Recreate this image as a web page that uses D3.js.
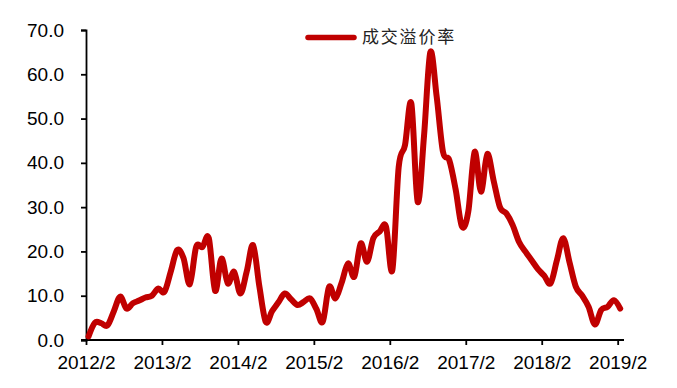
<!DOCTYPE html>
<html>
<head>
<meta charset="utf-8">
<script src="https://cdn.jsdelivr.net/npm/d3@7/dist/d3.min.js"></script>
<style>
  html, body { margin: 0; padding: 0; background: #fff; }
  svg { display: block; }
</style>
</head>
<body>
<svg id="chart" width="677" height="388"></svg>
<script>
// ---- data ----
// monthly values, 2012/2 .. 2019/2
const premium = [
  0.8, 3.9, 3.8, 3.3, 6.5, 9.8, 7.1, 8.3, 8.9, 9.6, 10.0, 11.6,
  10.9, 15.5, 20.3, 18.5, 12.6, 21.0, 21.0, 23.0, 11.1, 18.4, 12.8, 15.4,
  10.5, 15.5, 21.4, 12.0, 4.1, 6.5, 8.5, 10.5, 9.2, 7.9, 8.6, 9.4,
  7.0, 4.1, 12.0, 9.4, 13.0, 17.3, 14.3, 21.8, 17.7, 23.0, 24.5, 25.6,
  15.8, 39.0, 44.0, 53.4, 31.2, 46.0, 65.0, 55.0, 42.5, 40.6, 34.0, 25.6,
  29.0, 42.5, 33.5, 42.0, 36.0, 30.0, 28.6, 26.0, 22.2, 20.0, 18.0, 16.0,
  14.5, 12.8, 18.0, 23.0, 17.5, 12.0, 10.0, 7.5, 3.5, 6.8, 7.5, 9.0,
  7.1
];
const xTickLabels = ["2012/2","2013/2","2014/2","2015/2","2016/2","2017/2","2018/2","2019/2"];
const yTicks = [0, 10, 20, 30, 40, 50, 60, 70];
const seriesName = "成交溢价率";

(function () {
  const svg = d3.select("#chart");
  const mLeft = 86, mRight = 624, mTop = 30, mBottom = 340;
  const red = "#C00000";
  const font = "'Liberation Sans', Arial, sans-serif";

  const x = d3.scaleLinear().domain([0, 85]).range([mLeft, mRight]);
  const y = d3.scaleLinear().domain([0, 70]).range([mBottom, mTop]);

  const tickMonths = xTickLabels.map((d, i) => i * 12);

  // y axis
  const yAxis = d3.axisLeft(y).tickValues(yTicks).tickFormat(d3.format(".1f")).tickSize(5).tickPadding(17);
  const gy = svg.append("g").attr("transform", `translate(${mLeft},0)`).call(yAxis);
  gy.select(".domain").attr("stroke", "#000").attr("stroke-width", 1.8);
  gy.selectAll(".tick line").attr("stroke", "#000").attr("stroke-width", 1.8);
  gy.selectAll(".tick text")
    .attr("font-family", font)
    .attr("font-size", 19).attr("fill", "#000");

  // x axis
  const xAxis = d3.axisBottom(x).tickValues(tickMonths)
    .tickFormat((d, i) => xTickLabels[i]).tickSize(5).tickSizeOuter(0).tickPadding(11);
  const gx = svg.append("g").attr("transform", `translate(0,${mBottom})`).call(xAxis);
  gx.select(".domain").attr("stroke", "#000").attr("stroke-width", 1.8)
    .attr("d", `M${mLeft - 5},0H${mRight}`);
  gx.selectAll(".tick line").attr("stroke", "#000").attr("stroke-width", 1.8);
  gx.selectAll(".tick text")
    .attr("font-family", font)
    .attr("font-size", 19).attr("fill", "#000");

  // line
  const line = d3.line()
    .x((d, i) => x(i + 0.4))
    .y(d => y(d))
    .curve(d3.curveCardinal.tension(0));

  svg.append("path")
    .datum(premium)
    .attr("d", line)
    .attr("fill", "none")
    .attr("stroke", red)
    .attr("stroke-width", 6)
    .attr("stroke-linejoin", "round")
    .attr("stroke-linecap", "round");

  // legend
  const lg = svg.append("g");
  lg.append("line")
    .attr("x1", 308).attr("x2", 354).attr("y1", 37.5).attr("y2", 37.5)
    .attr("stroke", red).attr("stroke-width", 5.5).attr("stroke-linecap", "round");
  lg.append("text")
    .attr("x", 362).attr("y", 37.5).attr("dy", "0.35em")
    .attr("font-family", "'Noto Sans CJK SC', sans-serif")
    .attr("font-size", 17).attr("letter-spacing", 1.8)
    .attr("fill", "#222")
    .text(seriesName);
})();
</script>
</body>
</html>
